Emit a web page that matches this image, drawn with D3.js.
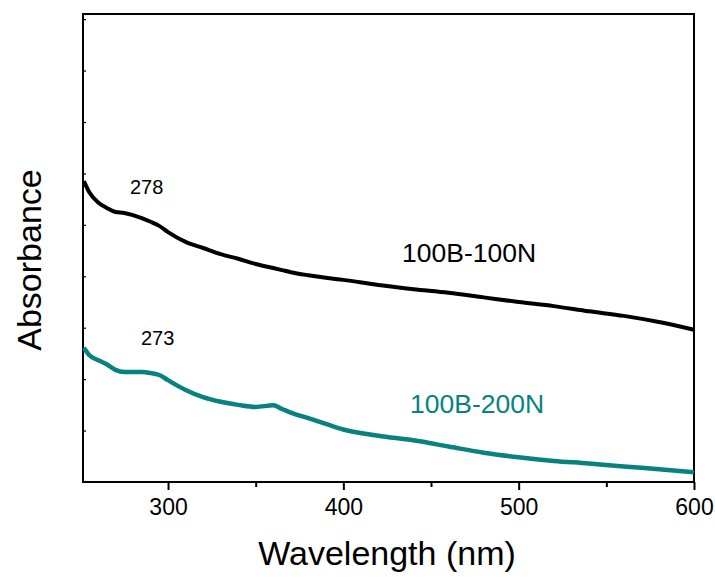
<!DOCTYPE html>
<html>
<head>
<meta charset="utf-8">
<script src="https://cdn.jsdelivr.net/npm/d3@7"></script>
<style>
  body { margin: 0; background: #fff; }
  svg { display: block; font-family: "Liberation Sans", Arial, sans-serif; }
</style>
</head>
<body>
<div id="chart"></div>
<script>
// wavelength (nm)
const wavelengths = [252, 255, 260, 265, 270, 275, 280, 285, 290, 295, 300, 310, 320, 330, 340, 350, 360, 365, 370, 380, 390, 400, 420, 440, 460, 480, 500, 520, 540, 560, 580, 600];
// absorbance, arbitrary units
const series100N = [5.85, 5.64, 5.44, 5.33, 5.25, 5.23, 5.19, 5.13, 5.06, 4.98, 4.86, 4.67, 4.55, 4.43, 4.34, 4.24, 4.16, 4.12, 4.08, 4.02, 3.97, 3.93, 3.83, 3.75, 3.68, 3.59, 3.50, 3.42, 3.32, 3.23, 3.11, 2.96];
const series200N = [2.61, 2.47, 2.37, 2.29, 2.18, 2.14, 2.14, 2.14, 2.12, 2.08, 1.98, 1.79, 1.65, 1.56, 1.50, 1.46, 1.49, 1.42, 1.35, 1.24, 1.13, 1.02, 0.90, 0.81, 0.69, 0.57, 0.48, 0.41, 0.36, 0.30, 0.25, 0.19];
const xMajorTicks = [300, 400, 500, 600];
const xMinorTicks = [350, 450, 550];
const yTicks = [1, 2, 3, 4, 5, 6, 7, 8, 9];

const width = 715, height = 577;
const margin = { left: 83, right: 21, top: 14, bottom: 95 };
const teal = "#07827f";

const svg = d3.select("#chart").append("svg")
  .attr("width", width)
  .attr("height", height);

const x = d3.scaleLinear().domain([251.5, 600]).range([margin.left, width - margin.right]);
const y = d3.scaleLinear().domain([0, 9.1]).range([height - margin.bottom, margin.top]);

// frame
svg.append("rect")
  .attr("x", x.range()[0])
  .attr("y", y.range()[1])
  .attr("width", x.range()[1] - x.range()[0])
  .attr("height", y.range()[0] - y.range()[1])
  .attr("fill", "none")
  .attr("stroke", "#000")
  .attr("stroke-width", 2);

// x axis: major + minor ticks, outward
svg.append("g").attr("transform", `translate(0,${y.range()[0]})`)
  .call(d3.axisBottom(x).tickValues(xMajorTicks).tickSize(8).tickPadding(9).tickFormat(d3.format("d")))
  .call(g => g.select(".domain").remove())
  .call(g => g.selectAll(".tick line").attr("stroke-width", 2))
  .call(g => g.selectAll(".tick text").attr("font-size", 23).attr("font-family", "Liberation Sans, Arial, sans-serif").attr("fill", "#000"));
svg.append("g").attr("transform", `translate(0,${y.range()[0]})`)
  .call(d3.axisBottom(x).tickValues(xMinorTicks).tickSize(5).tickFormat(""))
  .call(g => g.select(".domain").remove())
  .call(g => g.selectAll(".tick line").attr("stroke-width", 2));

// y axis: inward ticks only
svg.append("g").attr("transform", `translate(${x.range()[0]},0)`)
  .call(d3.axisRight(y).tickValues(yTicks).tickSize(3).tickFormat(""))
  .call(g => g.select(".domain").remove())
  .call(g => g.selectAll(".tick line").attr("stroke-width", 1.2));

const line = d3.line()
  .x((d, i) => x(wavelengths[i]))
  .y(d => y(d))
  .curve(d3.curveMonotoneX);

svg.append("path")
  .datum(series200N)
  .attr("d", line)
  .attr("fill", "none")
  .attr("stroke", teal)
  .attr("stroke-width", 4.5)
  .attr("stroke-linejoin", "round");

svg.append("path")
  .datum(series100N)
  .attr("d", line)
  .attr("fill", "none")
  .attr("stroke", "#000")
  .attr("stroke-width", 4)
  .attr("stroke-linejoin", "round");

// annotations
svg.append("text").attr("x", 130).attr("y", 194).attr("font-size", 20).text("278");
svg.append("text").attr("x", 141).attr("y", 345).attr("font-size", 20).text("273");
svg.append("text").attr("x", 402).attr("y", 262).attr("font-size", 26.5).text("100B-100N");
svg.append("text").attr("x", 410).attr("y", 413).attr("font-size", 26.5).attr("fill", teal).text("100B-200N");

// axis titles
svg.append("text")
  .attr("x", 387).attr("y", 565)
  .attr("text-anchor", "middle")
  .attr("font-size", 34)
  .text("Wavelength (nm)");
svg.append("text")
  .attr("transform", "translate(41,260) rotate(-90)")
  .attr("text-anchor", "middle")
  .attr("font-size", 34)
  .text("Absorbance");
</script>
</body>
</html>
